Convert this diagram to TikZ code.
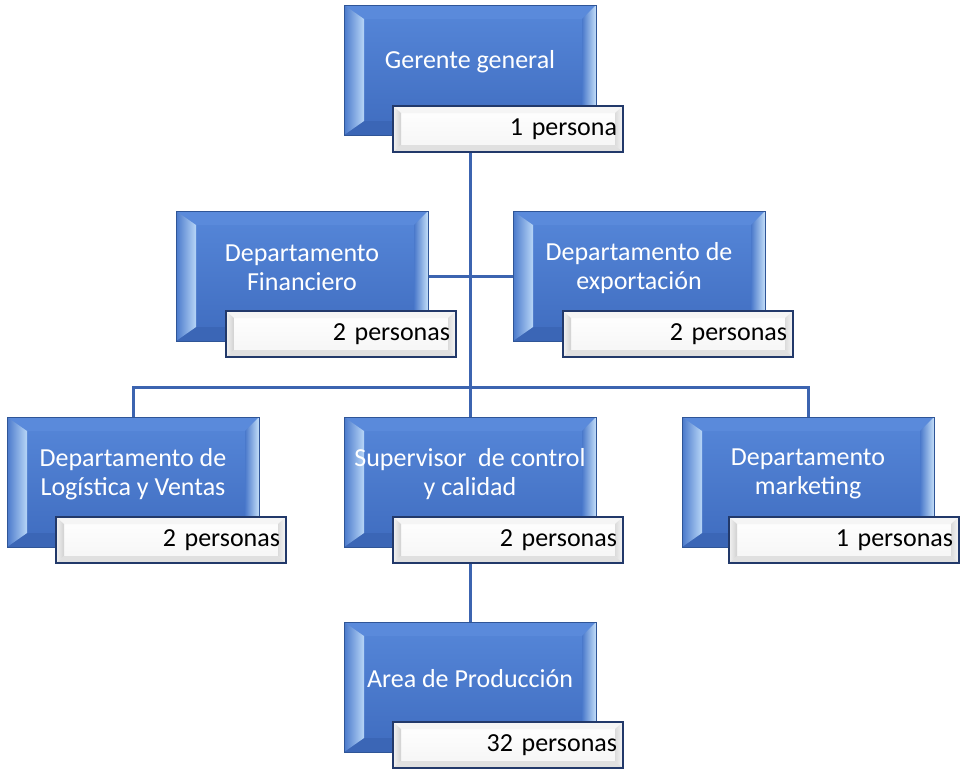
\documentclass[tikz,border=0pt]{standalone}
\usepackage{fontspec}
\setmainfont{Carlito}
\usetikzlibrary{backgrounds}
\definecolor{faceT}{HTML}{5687D9}
\definecolor{faceB}{HTML}{3F6CBF}
\definecolor{bborder}{HTML}{2F5597}
\definecolor{bandTop}{HTML}{5A8ADB}
\definecolor{bandBot}{HTML}{3B66B6}
\definecolor{bandIn}{HTML}{4A79CB}
\definecolor{bandLight}{HTML}{B8D6F7}
\definecolor{bandLightR}{HTML}{C3DEF8}
\definecolor{wborder}{HTML}{22396A}
\definecolor{linec}{HTML}{3C64B0}
\tikzset{
  bluebox/.style={rectangle, anchor=north west, inner sep=0pt, outer sep=0pt,
    minimum width=252pt, minimum height=130pt,
    top color=faceT, bottom color=faceB, draw=bborder, line width=0.8pt,
    path picture={
      \path (path picture bounding box.north west) coordinate (NW) ++(20,14) coordinate (NWi);
      \path (path picture bounding box.north east) coordinate (NE) ++(-14,14) coordinate (NEi);
      \path (path picture bounding box.south west) coordinate (SW) ++(20,-14) coordinate (SWi);
      \path (path picture bounding box.south east) coordinate (SE) ++(-14,-14) coordinate (SEi);
      \fill[bandTop] (NW)--(NE)--(NEi)--(NWi)--cycle;
      \fill[bandBot] (SW)--(SE)--(SEi)--(SWi)--cycle;
      \shade[left color=bandIn, right color=bandLight] (NW)--(NWi)--(SWi)--(SW)--cycle;
      \shade[left color=bandIn, right color=bandLightR] (NE)--(NEi)--(SEi)--(SE)--cycle;
    }},
  whitebox/.style={rectangle, anchor=north west, inner ysep=0pt, inner xsep=6pt, outer sep=0pt,
    minimum width=230pt, minimum height=46pt, text width=218pt, align=right,
    top color=white, bottom color=white!96!black, draw=wborder, line width=1.4pt,
    font=\fontsize{26}{29}\selectfont, text=black,
    path picture={
      \path (path picture bounding box.north west) coordinate (NW) ++(8,7) coordinate (NWi);
      \path (path picture bounding box.north east) coordinate (NE) ++(-8,7) coordinate (NEi);
      \path (path picture bounding box.south west) coordinate (SW) ++(8,-7) coordinate (SWi);
      \path (path picture bounding box.south east) coordinate (SE) ++(-8,-7) coordinate (SEi);
      \fill[white!96!black] (NW)--(NE)--(NEi)--(NWi)--cycle;
      \fill[white!88!black] (SW)--(SE)--(SEi)--(SWi)--cycle;
      \shade[left color=white!95!black, right color=white!82!black] (NW)--(NWi)--(SWi)--(SW)--cycle;
      \shade[left color=white!86!black, right color=white!97!black] (NE)--(NEi)--(SEi)--(SE)--cycle;
    }},
  btext/.style={align=center, text=white, inner sep=0pt, font=\fontsize{26}{29}\selectfont},
  conn/.style={draw=linec, line width=3pt}
}
\begin{document}
\begin{tikzpicture}[x=1pt, y=-1pt]
\useasboundingbox (0,0) rectangle (960,771);
% Gerente general
\node[bluebox] (g) at (344,5) {};
\node[btext] (g-t) at (470,62) {Gerente general};
\node[whitebox] (g-c) at (393,106) {1 persona};
% Financiero
\node[bluebox] (f) at (176,211) {};
\node[btext] (f-t) at (302,268) {Departamento\\Financiero};
\node[whitebox] (f-c) at (226,311) {2 personas};
% Exportacion
\node[bluebox] (e) at (513,211) {};
\node[btext] (e-t) at (639,268) {Departamento de\\exportación};
\node[whitebox] (e-c) at (563,311) {2 personas};
% Logistica
\node[bluebox] (l) at (7,417) {};
\node[btext] (l-t) at (133,474) {Departamento de\\Logística y Ventas};
\node[whitebox] (l-c) at (56,517) {2 personas};
% Supervisor
\node[bluebox] (s) at (344,417) {};
\node[btext] (s-t) at (470,474) {Supervisor~ de control\\y calidad};
\node[whitebox] (s-c) at (393,517) {2 personas};
% Marketing
\node[bluebox] (m) at (682,417) {};
\node[btext] (m-t) at (808,474) {Departamento\\marketing};
\node[whitebox] (m-c) at (729,517) {1 personas};
% Area de Produccion
\node[bluebox] (a) at (344,622) {};
\node[btext] (a-t) at (470,679) {Area de Producción};
\node[whitebox] (a-c) at (393,722) {32 personas};
\begin{scope}[on background layer]
  \fill[white] (0,0) rectangle (960,771);
  \draw[conn] (g.south) -- (s.north);
  \draw[conn] (f.east) -- (e.west);
  \draw[conn] (l.north) -- ++(0,-30) -| (m.north);
  \draw[conn] (s.south) -- (a.north);
\end{scope}
\end{tikzpicture}
\end{document}
